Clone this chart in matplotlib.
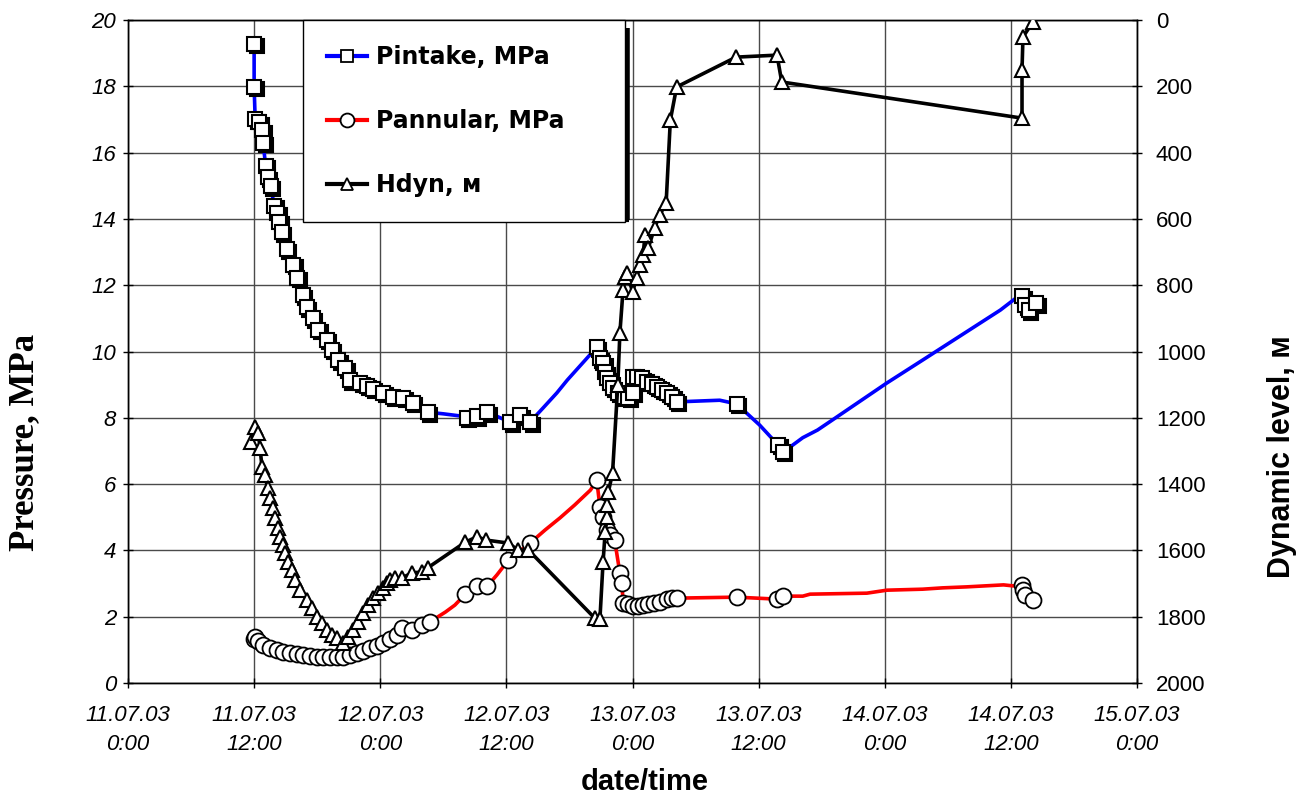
import matplotlib
matplotlib.use("Agg")
import matplotlib.pyplot as plt
import matplotlib.transforms as mtransforms
from matplotlib.lines import Line2D

# hours since 11.07.03 0:00
x_ticks = [0, 12, 24, 36, 48, 60, 72, 84, 96]
x_ticklabels = ["11.07.03\n0:00", "11.07.03\n12:00", "12.07.03\n0:00", "12.07.03\n12:00",
                "13.07.03\n0:00", "13.07.03\n12:00", "14.07.03\n0:00", "14.07.03\n12:00",
                "15.07.03\n0:00"]

# Pintake, MPa - line path
pin_line_t = [12.0, 12.0, 12.1, 12.5, 12.75, 12.85, 13.1, 13.3, 13.6, 13.9, 14.2, 14.4, 14.65,
              15.1, 15.7, 16.1, 16.65, 17.0, 17.6, 18.1, 18.9, 19.4, 20.0, 20.65, 21.1, 22.1,
              22.7, 23.3, 24.3, 25.2, 26.2, 27.1, 28.5, 30.0, 31.5, 32.25, 33.2, 34.2, 36.35,
              37.3, 38.25, 39.5, 40.8, 41.8, 43.5, 44.6, 44.9, 45.2, 45.4, 45.6, 45.9, 46.1,
              46.6, 47.1, 47.6, 48.0, 48.05, 48.4, 48.9, 49.4, 49.9, 50.3, 50.8, 51.3, 51.8,
              52.2, 56.3, 57.9, 60.1, 61.85, 62.3, 63.0, 64.2, 65.6, 67.0, 72.2, 75.6, 83.0,
              84.6, 85.06, 85.35, 85.7, 86.4]
pin_line_p = [19.28, 17.98, 17.01, 16.92, 16.68, 16.29, 15.6, 15.26, 14.99, 14.39, 14.18, 13.91,
              13.6, 13.09, 12.61, 12.22, 11.7, 11.34, 11.01, 10.65, 10.35, 10.05, 9.74, 9.5,
              9.14, 9.05, 8.96, 8.87, 8.75, 8.63, 8.6, 8.45, 8.17, 8.12, 8.06, 8.0, 8.05, 8.17,
              7.87, 8.08, 7.87, 8.3, 8.75, 9.14, 9.74, 10.13, 9.8, 9.65, 9.38, 9.2, 9.05, 8.9,
              8.75, 8.63, 8.6, 8.75, 9.23, 9.23, 9.2, 9.08, 9.02, 8.93, 8.84, 8.75, 8.63, 8.48,
              8.53, 8.42, 7.78, 7.18, 6.97, 7.12, 7.4, 7.63, 7.93, 9.05, 9.74, 11.25, 11.64,
              11.67, 11.4, 11.25, 11.46]
# Pintake markers
pin_mark_t = [12.0, 12.0, 12.1, 12.5, 12.75, 12.85, 13.1, 13.3, 13.6, 13.9, 14.2, 14.4, 14.65,
              15.1, 15.7, 16.1, 16.65, 17.0, 17.6, 18.1, 18.9, 19.4, 20.0, 20.65, 21.1, 22.1,
              22.7, 23.3, 24.3, 25.2, 26.2, 27.1, 28.5, 32.25, 33.2, 34.2, 36.35, 37.3, 38.25,
              44.6, 44.9, 45.2, 45.4, 45.6, 45.9, 46.1, 46.6, 47.1, 47.6, 48.0, 48.05, 48.4,
              48.9, 49.4, 49.9, 50.3, 50.8, 51.3, 51.8, 52.2, 57.9, 61.85, 62.3, 85.06, 85.35,
              85.7, 86.4]
pin_mark_p = [19.28, 17.98, 17.01, 16.92, 16.68, 16.29, 15.6, 15.26, 14.99, 14.39, 14.18, 13.91,
              13.6, 13.09, 12.61, 12.22, 11.7, 11.34, 11.01, 10.65, 10.35, 10.05, 9.74, 9.5,
              9.14, 9.05, 8.96, 8.87, 8.75, 8.63, 8.6, 8.45, 8.17, 8.0, 8.05, 8.17, 7.87, 8.08,
              7.87, 10.13, 9.8, 9.65, 9.38, 9.2, 9.05, 8.9, 8.75, 8.63, 8.6, 8.75, 9.23, 9.23,
              9.2, 9.08, 9.02, 8.93, 8.84, 8.75, 8.63, 8.48, 8.42, 7.18, 6.97, 11.67, 11.4,
              11.25, 11.46]

# Pannular, MPa - line path
pan_line_t = [12.0, 12.1, 12.4, 12.85, 13.5, 14.2, 14.75, 15.4, 16.1, 16.65, 17.3, 18.0, 18.55,
              19.2, 19.9, 20.45, 21.1, 21.8, 22.35, 23.0, 23.7, 24.26, 24.9, 25.6, 26.07, 27.0,
              27.97, 28.7, 30.2, 31.1, 32.1, 33.2, 34.2, 35.1, 36.2, 38.25, 39.7, 41.1, 42.5,
              44.0, 44.6, 44.9, 45.2, 45.6, 45.9, 46.3, 46.8, 47.0, 47.1, 47.6, 48.05, 48.5,
              49.0, 49.5, 50.0, 50.6, 51.3, 51.8, 52.2, 57.9, 61.75, 62.3, 64.2, 64.9, 70.3,
              72.2, 75.6, 77.5, 79.8, 83.3, 84.2, 85.06, 85.15, 85.35, 86.1]
pan_line_p = [1.33, 1.39, 1.27, 1.15, 1.05, 1.0, 0.94, 0.9, 0.87, 0.84, 0.81, 0.78, 0.78, 0.78,
              0.78, 0.78, 0.84, 0.9, 0.97, 1.05, 1.12, 1.2, 1.33, 1.45, 1.66, 1.6, 1.75, 1.84,
              2.14, 2.35, 2.68, 2.93, 2.93, 3.26, 3.71, 4.22, 4.62, 4.98, 5.37, 5.82, 6.12, 5.31,
              5.0, 4.62, 4.46, 4.31, 3.32, 3.02, 2.41, 2.38, 2.32, 2.32, 2.35, 2.38, 2.41, 2.44,
              2.53, 2.56, 2.56, 2.59, 2.53, 2.62, 2.62, 2.68, 2.71, 2.8, 2.83, 2.87, 2.9, 2.96,
              2.93, 2.96, 2.8, 2.65, 2.5]
# Pannular markers
pan_mark_t = [12.0, 12.1, 12.4, 12.85, 13.5, 14.2, 14.75, 15.4, 16.1, 16.65, 17.3, 18.0, 18.55,
              19.2, 19.9, 20.45, 21.1, 21.8, 22.35, 23.0, 23.7, 24.26, 24.9, 25.6, 26.07, 27.0,
              27.97, 28.7, 32.1, 33.2, 34.2, 36.2, 38.25, 44.6, 44.9, 45.2, 45.6, 45.9, 46.3,
              46.8, 47.0, 47.1, 47.6, 48.05, 48.5, 49.0, 49.5, 50.0, 50.6, 51.3, 51.8, 52.2,
              57.9, 61.75, 62.3, 85.06, 85.15, 85.35, 86.1]
pan_mark_p = [1.33, 1.39, 1.27, 1.15, 1.05, 1.0, 0.94, 0.9, 0.87, 0.84, 0.81, 0.78, 0.78, 0.78,
              0.78, 0.78, 0.84, 0.9, 0.97, 1.05, 1.12, 1.2, 1.33, 1.45, 1.66, 1.6, 1.75, 1.84,
              2.68, 2.93, 2.93, 3.71, 4.22, 6.12, 5.31, 5.0, 4.62, 4.46, 4.31, 3.32, 3.02, 2.41,
              2.38, 2.32, 2.32, 2.35, 2.38, 2.41, 2.44, 2.53, 2.56, 2.56, 2.59, 2.53, 2.62, 2.96,
              2.8, 2.65, 2.5]

# Hdyn, m (all points have markers)
hdyn_t = [11.7, 12.1, 12.4, 12.56, 12.75, 13.0, 13.3, 13.5, 13.8, 14.0, 14.3, 14.5, 14.75, 14.95,
          15.2, 15.6, 15.9, 16.4, 17.0, 17.5, 18.0, 18.5, 18.9, 19.4, 19.9, 20.45, 20.9, 21.4,
          21.9, 22.35, 22.8, 23.3, 23.8, 24.26, 24.6, 24.9, 25.4, 26.07, 27.0, 27.97, 28.5, 32.1,
          33.2, 34.1, 36.2, 37.1, 38.1, 44.4, 44.9, 45.2, 45.4, 45.6, 45.6, 45.7, 46.1, 46.6,
          46.8, 47.1, 47.3, 47.5, 48.0, 48.4, 48.7, 49.0, 49.2, 49.5, 50.1, 50.6, 51.2, 51.6,
          52.2, 57.85, 61.75, 62.2, 85.06, 85.06, 85.15, 86.1]
hdyn_h = [1273, 1228, 1246, 1291, 1348, 1373, 1412, 1442, 1472, 1502, 1532, 1559, 1584, 1608,
          1635, 1659, 1689, 1720, 1750, 1774, 1801, 1819, 1840, 1855, 1864, 1879, 1861, 1840,
          1816, 1789, 1765, 1744, 1729, 1714, 1699, 1689, 1683, 1683, 1668, 1665, 1653, 1575,
          1559, 1569, 1578, 1599, 1599, 1804, 1807, 1635, 1544, 1499, 1463, 1424, 1367, 1101,
          944, 814, 775, 763, 820, 778, 739, 709, 649, 688, 627, 588, 552, 302, 202, 112, 106,
          187, 296, 151, 51, 6]

fig = plt.figure(figsize=(13.04, 8.01), dpi=100)
ax = fig.add_axes([128 / 1304, 1 - 683 / 801, 1009 / 1304, 663 / 801])
ax2 = ax.twinx()

grid_c = "#4a4a4a"
for t in x_ticks:
    ax.axvline(t, color=grid_c, lw=1.0, zorder=0)
for p in range(0, 21, 2):
    ax.axhline(p, color=grid_c, lw=1.0, zorder=0)

sq_ms, ci_ms, tr_ms = 9.5, 11.5, 10
shadow = mtransforms.offset_copy(ax.transData, fig=fig, x=2.5, y=-2.5, units="dots")

ax.plot(pin_line_t, pin_line_p, color="#0000ff", lw=2.6, zorder=2)
ax.plot(pin_mark_t, pin_mark_p, ls="none", marker="s", ms=sq_ms, mfc="black", mec="black",
        mew=1.5, transform=shadow, zorder=3)
ax.plot(pin_mark_t, pin_mark_p, ls="none", marker="s", ms=sq_ms, mfc="white", mec="black",
        mew=1.5, zorder=4)

ax.plot(pan_line_t, pan_line_p, color="#ff0000", lw=2.6, zorder=2)
ax.plot(pan_mark_t, pan_mark_p, ls="none", marker="o", ms=ci_ms, mfc="white", mec="black",
        mew=1.3, zorder=4)

ax2.plot(hdyn_t, hdyn_h, color="black", lw=2.6, marker="^", ms=tr_ms, mfc="white",
         mec="black", mew=1.5, zorder=3)

ax.set_xlim(0, 96)
ax.set_ylim(0, 20)
ax2.set_ylim(2000, 0)
ax.set_xticks(x_ticks)
ax.set_xticklabels(x_ticklabels, linespacing=1.5)
ax.set_yticks(range(0, 21, 2))
ax2.set_yticks(range(0, 2001, 200))

for lab in ax.get_xticklabels() + ax.get_yticklabels():
    lab.set_fontfamily("Liberation Sans")
    lab.set_fontstyle("italic")
    lab.set_fontsize(16)
for lab in ax2.get_yticklabels():
    lab.set_fontfamily("Liberation Sans")
    lab.set_fontsize(16)
ax.tick_params(axis="both", direction="inout", length=7, width=1, color="black")
ax.tick_params(axis="x", pad=12)
ax.tick_params(axis="y", pad=5)
ax2.tick_params(axis="y", direction="inout", length=7, width=1, color="black", pad=10)

for a in (ax, ax2):
    for s in a.spines.values():
        s.set_color("black")
        s.set_linewidth(1.0)

ax.set_ylabel("Pressure, MPa", family="Liberation Serif", weight="bold", size=25)
ax.yaxis.set_label_coords(-0.086, 0.363)
ax2.set_ylabel("Dynamic level, м", family="Liberation Sans", weight="bold", size=22)
ax2.yaxis.set_label_coords(1.129, 0.341)
ax.set_xlabel("date/time", family="Liberation Sans", weight="bold", size=21)
ax.xaxis.set_label_coords(0.512, -0.128)

handles = [
    Line2D([], [], color="#0000ff", lw=3, marker="s", ms=8, mfc="white", mec="black", mew=1.3),
    Line2D([], [], color="#ff0000", lw=3, marker="o", ms=10, mfc="white", mec="black", mew=1.3),
    Line2D([], [], color="black", lw=3, marker="^", ms=9, mfc="white", mec="black", mew=1.3),
]
labels = ["Pintake, MPa", "Pannular, MPa", "Hdyn, м"]
leg = ax2.legend(handles, labels, loc="upper left", bbox_to_anchor=(0.173, 0.698, 0.32, 0.302),
                 mode="expand", frameon=True, fancybox=False, shadow=False, framealpha=1,
                 borderaxespad=0, handlelength=1.7, handletextpad=0.35, labelspacing=1.7,
                 borderpad=1.05, prop=dict(family="DejaVu Sans", weight="bold", size=17))
leg.get_frame().set_edgecolor("black")
leg.get_frame().set_linewidth(1.0)
leg.set_zorder(10)
# shadow on the right and bottom edges of the legend box
ax2.plot([0.495, 0.495], [0.988, 0.698], transform=ax2.transAxes, color="black", lw=4,
         solid_capstyle="butt", zorder=9, clip_on=False)
ax2.plot([0.176, 0.497], [0.698, 0.698], transform=ax2.transAxes, color="black", lw=3,
         solid_capstyle="butt", zorder=9, clip_on=False)

fig.savefig("out.png", dpi=100)
